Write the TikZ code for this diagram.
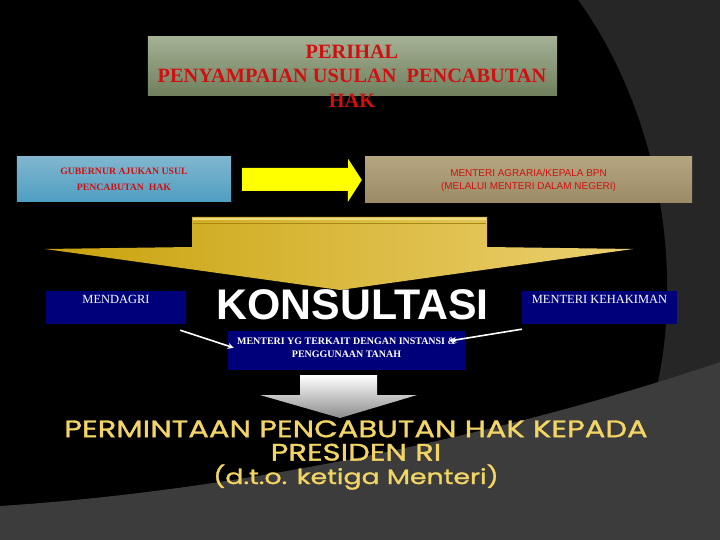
\documentclass[tikz,border=0pt]{standalone}
\usepackage{fontspec}
\setmainfont{Liberation Serif}
\setsansfont{Liberation Sans}
\newfontfamily\hiasfont[FakeStretch=1.28,FakeBold=1.2]{Poppins}
\usetikzlibrary{positioning,arrows.meta}

\definecolor{latgelap}{HTML}{262626}
\definecolor{latterang}{HTML}{3C3C3C}
\definecolor{judulatas}{HTML}{A3B094}
\definecolor{judultengah}{HTML}{5A6B45}
\definecolor{judulbawah}{HTML}{6F7F5C}
\definecolor{merah}{HTML}{D01010}
\definecolor{biruatas}{HTML}{80B6CE}
\definecolor{birutengah}{HTML}{4B88A3}
\definecolor{birubawah}{HTML}{4E9EC2}
\definecolor{coklatatas}{HTML}{B5A57F}
\definecolor{coklattengah}{HTML}{857454}
\definecolor{coklatbawah}{HTML}{9A8A66}
\definecolor{kuning}{HTML}{FFFF00}
\definecolor{emaskiri}{HTML}{C9A20C}
\definecolor{emastengah}{HTML}{D5AE1E}
\definecolor{emaskanan}{HTML}{EBD070}
\definecolor{emasmuda}{HTML}{F0DC80}
\definecolor{emasgelap}{HTML}{A88A10}
\definecolor{navy}{HTML}{00007A}
\definecolor{abugelap}{HTML}{8C8C8C}
\definecolor{emasteks}{HTML}{F3D565}

\begin{document}
\begin{tikzpicture}[x=1bp,y=-1bp,
  kotak/.style={rectangle,inner sep=0pt,align=center},
  kotakbiru/.style={kotak,fill=navy,text=white,minimum height=33bp,
    text height=8bp,text depth=16bp,font=\fontsize{12.5}{14}\selectfont},
  panahputih/.style={draw=white,line width=1.6bp,-{Stealth[length=6bp,width=6bp]}},
  hias/.style={font=\hiasfont\fontsize{24}{23.5}\selectfont,align=center,text=emasteks}]

% latar
\fill[latgelap] (0,0) rectangle (720,540);
\fill[black] (0,0) -- (578,0) .. controls (672,130) and (690,320) .. (640,440) -- (0,540) -- cycle;
\fill[latterang] (0,540) -- (0,506) .. controls (250,490) and (520,430) .. (720,362) -- (720,540) -- cycle;

% judul
\node[kotak,minimum width=409bp,minimum height=59bp,
  top color=judulatas,middle color=judultengah,bottom color=judulbawah] (judul) at (352.5,66.5) {};
\node[kotak,text=merah,font=\bfseries\fontsize{20.4}{24.5}\selectfont] (perihal) at (352,76)
  {PERIHAL\\PENYAMPAIAN USULAN\ \ PENCABUTAN\\HAK};

% baris atas
\node[kotak,minimum width=214bp,minimum height=45bp,
  top color=biruatas,middle color=birutengah,bottom color=birubawah,
  text=merah,font=\bfseries\fontsize{9.8}{16}\selectfont] (gubernur) at (124,179.5)
  {GUBERNUR AJUKAN USUL\\PENCABUTAN\ \ HAK};
\node[kotak,minimum width=327bp,minimum height=46bp,
  top color=coklatatas,middle color=coklattengah,bottom color=coklatbawah,
  text=merah,font=\sffamily\fontsize{10}{13}\selectfont] (agraria) at (528.5,180)
  {MENTERI AGRARIA/KEPALA BPN\\(MELALUI MENTERI DALAM NEGERI)};
\fill[kuning] ([xshift=11bp,yshift=11.5bp]gubernur.east) -- ++(106,0) -- ++(0,-9)
  -- ([xshift=-3bp]agraria.west) -- ++(-14,22) -- ++(0,-11)
  -- ([xshift=11bp,yshift=-11.5bp]gubernur.east) -- cycle;

% panah emas
\shade[left color=emaskiri,middle color=emastengah,right color=emaskanan]
  (192,217) -- (487,217) -- (487,247) -- (633,249) -- (340,290) -- (45,249) -- (192,247) -- cycle;
\draw[emasmuda,line width=2bp] (193,219) -- (486,219);
\draw[emasgelap,line width=0.8bp] (193,223) -- (486,223);

% konsultasi
\node[font=\sffamily\bfseries\fontsize{43}{43}\selectfont,inner sep=0pt,text=white] (konsultasi)
  at (352.5,304.5) {KONSULTASI};
\node[kotakbiru,minimum width=140bp] (mendagri) at (116,307.5) {MENDAGRI};
\node[kotakbiru,minimum width=155bp] (kehakiman) at (599.5,307.5) {MENTERI KEHAKIMAN};
\node[kotak,fill=navy,text=white,minimum width=237bp,minimum height=39bp,text depth=5bp,
  font=\bfseries\fontsize{10}{13}\selectfont] (terkait) at (346.5,350.5)
  {MENTERI YG TERKAIT DENGAN INSTANSI \&\\PENGGUNAAN TANAH};
\draw[panahputih] ([xshift=-6bp,yshift=-6bp]mendagri.south east) -- ([xshift=6bp,yshift=-17bp]terkait.north west);
\draw[panahputih] ([yshift=-5bp]kehakiman.south west) -- ([xshift=-15bp,yshift=-10bp]terkait.north east);

% panah abu
\shade[top color=white,bottom color=abugelap]
  (300,375) -- (377,375) -- (377,395) -- (417,395) -- (340,418) -- (260,395) -- (300,395) -- cycle;

% permintaan
\node[hias] (permintaan) at (356,455)
  {PERMINTAAN PENCABUTAN HAK KEPADA\\PRESIDEN RI\\{\fontsize{21}{23.5}\selectfont(d.t.o. ketiga Menteri)}};
\end{tikzpicture}
\end{document}
